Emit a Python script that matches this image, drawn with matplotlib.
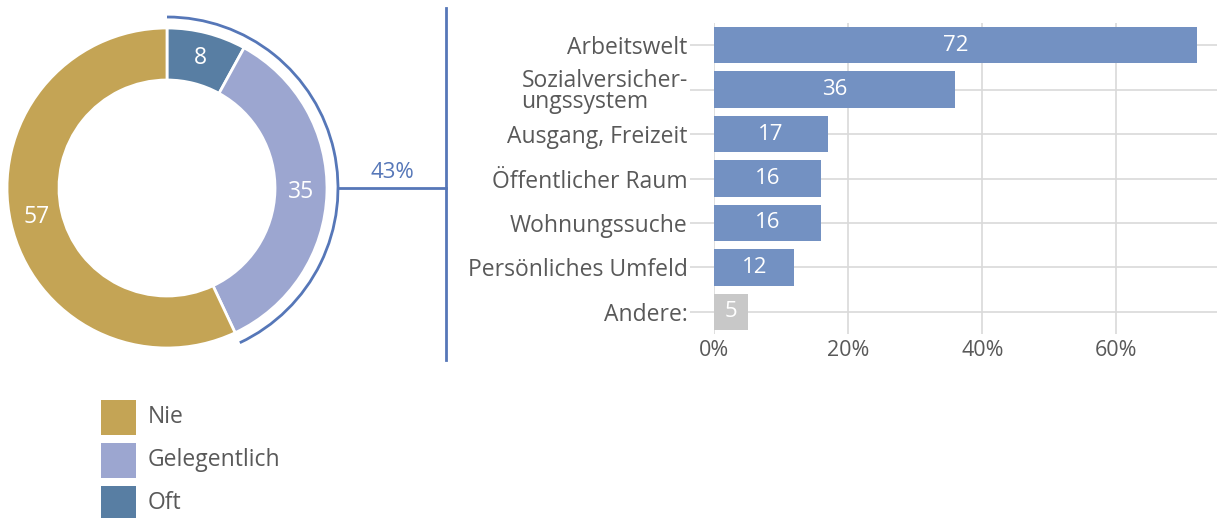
import matplotlib.pyplot as plt
from matplotlib.patches import Arc, Rectangle
import numpy as np

plt.rcParams['font.family'] = ['Open Sans', 'DejaVu Sans']

# donut data (clockwise from top)
freq_labels = ["Oft", "Gelegentlich", "Nie"]
freq_values = [8, 35, 57]
freq_colors = ["#587ea3", "#9ca6d0", "#c4a455"]

# bar data
areas = ["Arbeitswelt", "Sozialversicher-\nungssystem", "Ausgang, Freizeit",
         "Öffentlicher Raum", "Wohnungssuche", "Persönliches Umfeld", "Andere:"]
area_values = [72, 36, 17, 16, 16, 12, 5]
bar_colors = ["#7391c2"] * 6 + ["#c8c8c8"]

W, H = 1217, 518
text_gray = "#595959"
line_blue = "#5677b8"

fig = plt.figure(figsize=(W / 100, H / 100), dpi=100)

# full-figure axes in pixel units (y up)
ax0 = fig.add_axes([0, 0, 1, 1])
cx, cy = 167, H - 188
r_out, r_w = 160, 52
wedges, _ = ax0.pie(freq_values, colors=freq_colors, startangle=90, counterclock=False,
                    center=(cx, cy), radius=r_out,
                    wedgeprops=dict(width=r_w, edgecolor="white", linewidth=2))

# value labels on the ring
total = sum(freq_values)
start = 90
r_mid = r_out - r_w / 2
for v in freq_values:
    span = v / total * 360
    mid = np.deg2rad(start - span / 2)
    ax0.text(cx + r_mid * np.cos(mid), cy + r_mid * np.sin(mid), str(v),
             color="white", fontsize=16.5, ha="center", va="center")
    start -= span

# bracket arc over "Oft" + "Gelegentlich"
share = freq_values[0] + freq_values[1]
r_arc = 171
ax0.add_patch(Arc((cx, cy), 2 * r_arc, 2 * r_arc, theta1=90 - share / total * 360, theta2=90,
                  color=line_blue, linewidth=2))
ax0.plot([cx + r_arc, 446], [cy, cy], color=line_blue, linewidth=2)
ax0.plot([446, 446], [H - 8, H - 360], color=line_blue, linewidth=2)
ax0.text(392, H - 173, f"{share}%", color=line_blue, fontsize=16, ha="center", va="center")

# legend
legend_order = [2, 1, 0]
for k, i in enumerate(legend_order):
    top = H - 400 - k * 43
    ax0.add_patch(Rectangle((101, top - 35), 35, 35, color=freq_colors[i], lw=0))
    ax0.text(148, top - 17, freq_labels[i], color=text_gray, fontsize=16.5, ha="left", va="center")

ax0.set_xlim(0, W)
ax0.set_ylim(0, H)
ax0.set_aspect("auto")
ax0.axis("off")

# bar chart
ax1 = fig.add_axes([714 / W, 1 - 334 / H, (W - 714) / W, 311 / H])
y = np.arange(len(areas))
bars = ax1.barh(y, area_values, height=0.82, color=bar_colors, zorder=2)
for b, v in zip(bars, area_values):
    ax1.text(b.get_width() / 2, b.get_y() + b.get_height() / 2, str(v),
             color="white", fontsize=16, ha="center", va="center", zorder=3)

ax1.set_xlim(0, 75)
ax1.set_ylim(len(areas) - 0.5, -0.5)
ax1.set_yticks(y)
ax1.set_yticklabels(areas, color=text_gray, fontsize=16.5, linespacing=0.85)
for lbl in ax1.get_yticklabels():
    lbl.set_multialignment("left")
ax1.set_xticks([0, 20, 40, 60])
ax1.set_xticklabels(["0%", "20%", "40%", "60%"], color=text_gray, fontsize=15.5)
ax1.tick_params(axis="y", length=17, color="#d9d9d9", width=1.2, pad=2)
ax1.tick_params(axis="x", length=0, pad=4)
ax1.grid(True, color="#d9d9d9", linewidth=1.2, zorder=0)
for s in ax1.spines.values():
    s.set_visible(False)

fig.savefig("out.png", dpi=100)
